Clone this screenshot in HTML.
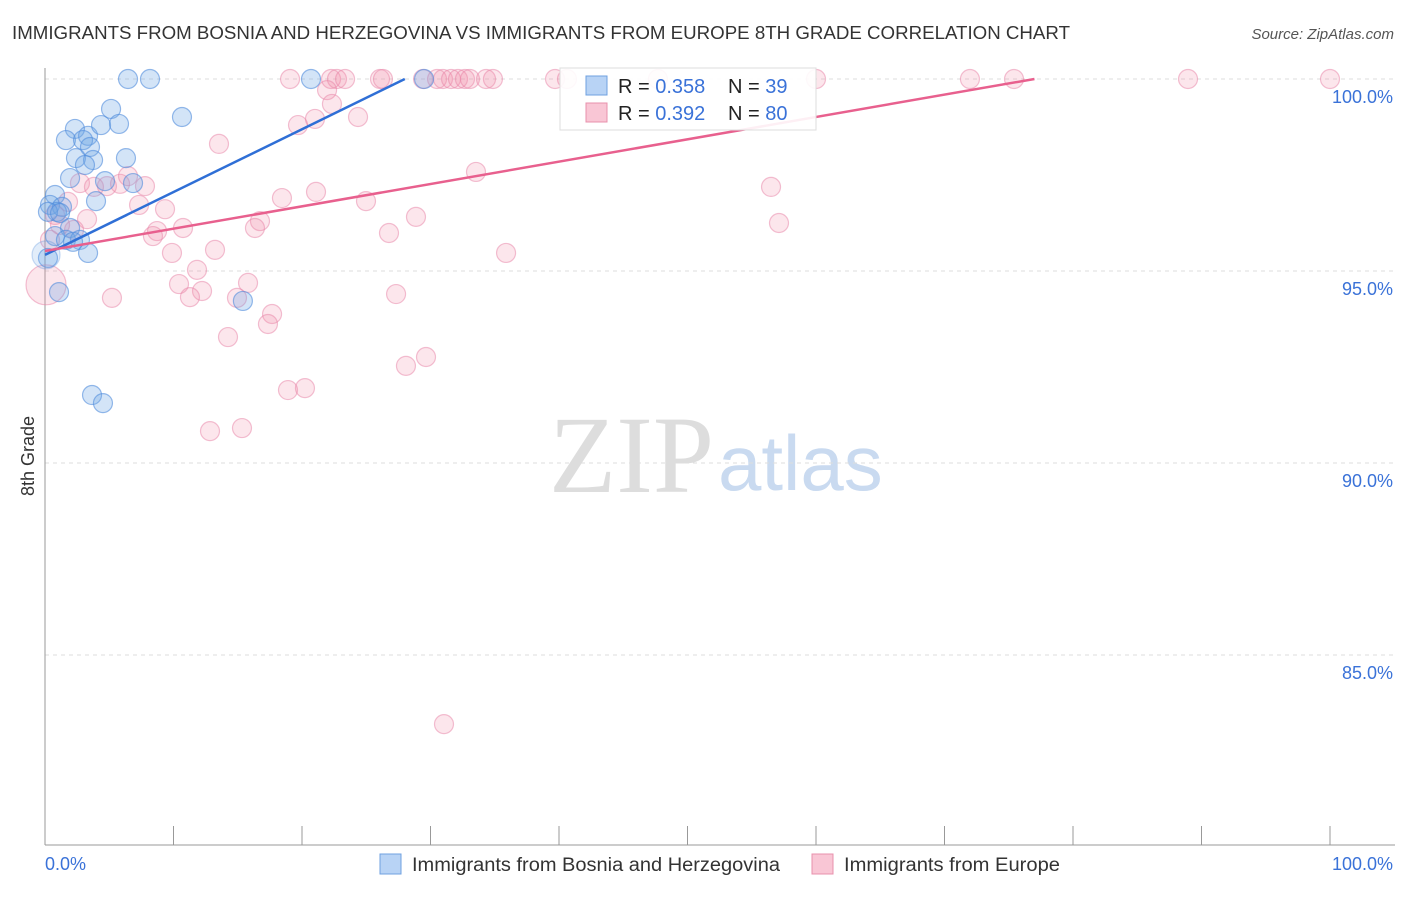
<!DOCTYPE html>
<html><head><meta charset="utf-8"><style>
body{margin:0;background:#fff;font-family:"Liberation Sans",sans-serif}
</style></head><body>
<svg width="1406" height="892" xmlns="http://www.w3.org/2000/svg" font-family="Liberation Sans, sans-serif">
<text x="12" y="39" font-size="18" fill="#333" textLength="1058" lengthAdjust="spacingAndGlyphs">IMMIGRANTS FROM BOSNIA AND HERZEGOVINA VS IMMIGRANTS FROM EUROPE 8TH GRADE CORRELATION CHART</text>
<text x="1394" y="39" font-size="15" fill="#555" font-style="italic" text-anchor="end">Source: ZipAtlas.com</text>
<text x="714" y="492" font-size="110" fill="#ddd" text-anchor="end" font-family="Liberation Serif, serif">ZIP</text>
<text x="718" y="490" font-size="78" fill="#c9daf0">atlas</text>
<g id="grid"></g><g id="axes"></g><g id="pts"></g><g id="trend"></g>
<text transform="translate(34,456) rotate(-90)" font-size="18" fill="#333" text-anchor="middle">8th Grade</text>
<text x="45" y="870" font-size="18" fill="#3a72d8">0.0%</text>
<text x="1393" y="870" font-size="18" fill="#3a72d8" text-anchor="end">100.0%</text>
<g>
<rect x="560" y="68" width="256" height="62" fill="#fff" fill-opacity="0.9" stroke="#ddd"/>
<rect x="586" y="76" width="21" height="19" fill="#b8d3f5" stroke="#6fa0e0"/>
<rect x="586" y="103" width="21" height="19" fill="#f9c6d5" stroke="#e890ac"/>
<text x="618" y="93" font-size="20" fill="#222">R = <tspan fill="#3a72d8">0.358</tspan></text>
<text x="728" y="93" font-size="20" fill="#222">N = <tspan fill="#3a72d8">39</tspan></text>
<text x="618" y="120" font-size="20" fill="#222">R = <tspan fill="#3a72d8">0.392</tspan></text>
<text x="728" y="120" font-size="20" fill="#222">N = <tspan fill="#3a72d8">80</tspan></text>
</g>
<g>
<rect x="380" y="854" width="21" height="20" fill="#b8d3f5" stroke="#6fa0e0"/>
<text x="412" y="871" font-size="19" fill="#333" textLength="368" lengthAdjust="spacingAndGlyphs">Immigrants from Bosnia and Herzegovina</text>
<rect x="812" y="854" width="21" height="20" fill="#f9c6d5" stroke="#e890ac"/>
<text x="844" y="871" font-size="19" fill="#333" textLength="216" lengthAdjust="spacingAndGlyphs">Immigrants from Europe</text>
</g>
</svg>
<script>
const yTicks=[100,95,90,85];
const yTickLabels=["100.0%","95.0%","90.0%","85.0%"];
const xTicks=[0,10,20,30,40,50,60,70,80,90,100];
const blueX=[6.46,8.17,20.7,29.5,5.14,10.66,2.33,3.35,4.36,5.76,1.63,2.96,3.5,2.41,3.74,6.3,3.11,1.95,4.67,6.85,0.78,3.97,0.39,1.32,0.93,0.23,1.17,1.95,0.78,1.63,2.72,2.18,3.35,0.23,1.09,15.4,3.66,4.51,0.08];
const blueY=[100,100,100,100,99.22,99.01,98.70,98.52,98.80,98.83,98.41,98.41,98.23,97.94,97.89,97.94,97.76,97.42,97.34,97.29,96.98,96.82,96.72,96.67,96.54,96.54,96.51,96.12,95.91,95.81,95.81,95.76,95.47,95.34,94.45,94.22,91.77,91.56,95.42];
const pinkX=[19.07,22.26,22.72,23.35,26.07,26.3,29.42,30.51,30.97,31.6,32.14,32.68,33.07,34.32,34.86,39.69,40.62,47.7,60.0,71.98,75.41,88.95,100,
21.95,22.33,24.36,19.69,21.01,13.54,33.54,56.5,2.72,3.81,4.82,5.84,6.46,7.78,21.09,18.44,24.98,28.87,7.32,9.34,1.79,0.78,3.27,16.73,16.34,10.74,8.72,8.4,2.26,26.77,13.23,9.88,57.12,35.88,11.83,10.43,12.22,15.8,11.28,5.21,14.94,27.32,17.67,17.35,14.24,29.65,28.09,18.91,20.23,12.84,15.33,31.05,1.17,0.39,0.08];
const pinkY=[100,100,100,100,100,100,100,100,100,100,100,100,100,100,100,100,100,100,100,100,100,100,100,
99.71,99.35,99.01,98.8,98.96,98.31,97.58,97.19,97.29,97.19,97.21,97.27,97.47,97.21,97.06,96.9,96.82,96.41,96.72,96.61,96.8,96.46,96.35,96.3,96.12,96.12,96.04,95.91,96.07,95.99,95.55,95.47,96.25,95.47,95.03,94.66,94.48,94.69,94.32,94.3,94.3,94.4,93.88,93.62,93.28,92.76,92.53,91.9,91.95,90.83,90.91,83.2,96.2,95.81,94.64];
const blueTrendX=[0,28];const blueTrendY=[95.42,100];
const pinkTrendX=[0,77];const pinkTrendY=[95.52,100];
const NS="http://www.w3.org/2000/svg";
const sx=v=>45+v*12.85, sy=v=>79+(100-v)*38.4;
function mk(t,a,p){const e=document.createElementNS(NS,t);for(const k in a)e.setAttribute(k,a[k]);document.getElementById(p).appendChild(e);return e;}
yTicks.forEach((t,i)=>{
 const l=mk('line',{x1:45,x2:1395,y1:sy(t),y2:sy(t),stroke:'#ddd','stroke-dasharray':'4,4'},'grid');
 
 
 const tx=mk('text',{x:1393,y:sy(t)+24,'font-size':18,fill:'#3a72d8','text-anchor':'end'},'grid');
 tx.textContent=yTickLabels[i];
 
 
});
const ya=mk('line',{x1:45,x2:45,y1:68,y2:845,stroke:'#999'},'axes');


const xa=mk('line',{x1:45,x2:1395,y1:845,y2:845,stroke:'#999'},'axes');


xTicks.forEach(t=>{
 const l=mk('line',{x1:sx(t),x2:sx(t),y1:826,y2:845,stroke:'#999'},'axes');
 
 
});
pinkX.forEach((x,i)=>{
 const big=(i===pinkX.length-1);
 const c=mk('circle',{cx:sx(x),cy:sy(pinkY[i]),r:big?20:9.5,fill:'rgba(240,140,170,0.22)',stroke:'rgba(232,130,165,0.5)','stroke-width':1.2},'pts');
 
 
});
blueX.forEach((x,i)=>{
 const big=(i===blueX.length-1);
 const c=mk('circle',{cx:sx(x),cy:sy(blueY[i]),r:big?14:9.5,fill:big?'rgba(110,165,230,0.2)':'rgba(110,165,230,0.3)',stroke:big?'rgba(80,140,220,0.3)':'rgba(80,140,220,0.6)','stroke-width':1.2},'pts');
 
 
});
const bt=mk('line',{x1:sx(blueTrendX[0]),y1:sy(blueTrendY[0]),x2:sx(blueTrendX[1]),y2:sy(blueTrendY[1]),stroke:'#2f6fd6','stroke-width':2.5},'trend');


const pt=mk('line',{x1:sx(pinkTrendX[0]),y1:sy(pinkTrendY[0]),x2:sx(pinkTrendX[1]),y2:sy(pinkTrendY[1]),stroke:'#e8608e','stroke-width':2.5},'trend');


</script>
</body></html>
